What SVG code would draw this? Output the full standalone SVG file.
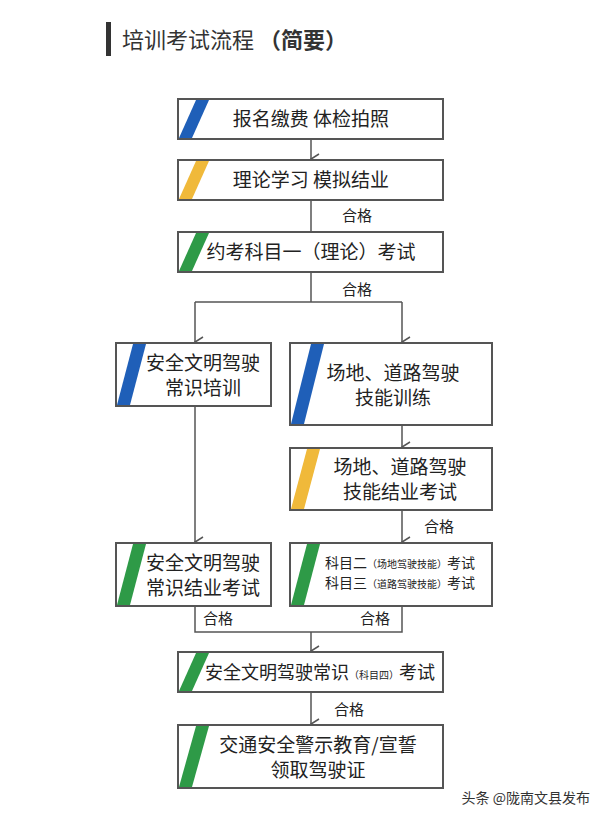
<svg xmlns="http://www.w3.org/2000/svg" width="600" height="820" viewBox="0 0 600 820">
<defs>
<style>
.b{fill:#fff;stroke:#555;stroke-width:2}
.t{font-family:"Noto Sans CJK SC",sans-serif;font-size:19px;fill:#222;text-anchor:middle}
.s{font-size:10px}
.l{font-family:"Noto Sans CJK SC",sans-serif;font-size:15px;fill:#222}
.c{fill:none;stroke:#555;stroke-width:1.5}
.blue{fill:#1f5fb8}.yel{fill:#f0b93a}.grn{fill:#2e9a47}
</style>
<marker id="a" markerWidth="12" markerHeight="10" refX="6" refY="9" orient="auto" markerUnits="userSpaceOnUse" viewBox="0 0 12 10"><path d="M1,1 L6,9 L11,1" fill="none" stroke="#555" stroke-width="1.5"/></marker>
</defs>
<rect width="600" height="820" fill="#fff"/>
<rect x="106" y="22" width="5" height="34" fill="#333"/>
<text x="122" y="48" font-family="Noto Sans CJK SC,sans-serif" font-size="22" fill="#333">培训考试流程 <tspan font-weight="bold">（简要）</tspan></text>
<g id="connectors">
<path class="c" d="M311,139V159" marker-end="url(#a)"/>
<path class="c" d="M311,200V232"/>
<path class="c" d="M311,272V302M195,302H402"/>
<path class="c" d="M195,302V342" marker-end="url(#a)"/>
<path class="c" d="M402,302V342" marker-end="url(#a)"/>
<path class="c" d="M402,425V447" marker-end="url(#a)"/>
<path class="c" d="M402,510V542" marker-end="url(#a)"/>
<path class="c" d="M195,406V542" marker-end="url(#a)"/>
<path class="c" d="M195,606V632H402V606"/>
<path class="c" d="M311,632V651" marker-end="url(#a)"/>
<path class="c" d="M311,692V724" marker-end="url(#a)"/>
<text class="l" x="342" y="221">合格</text>
<text class="l" x="342" y="295">合格</text>
<text class="l" x="424" y="532">合格</text>
<text class="l" x="203" y="624">合格</text>
<text class="l" x="360" y="624">合格</text>
<text class="l" x="334" y="715">合格</text>
</g>
<g id="n1"><rect class="b" x="178" y="99" width="265" height="40"/><polygon class="blue" points="179,138 196,100 209,100 192,138"/><text class="t" x="311" y="126">报名缴费 体检拍照</text></g>
<g id="n2"><rect class="b" x="178" y="160" width="265" height="40"/><polygon class="yel" points="179,199 196,161 209,161 192,199"/><text class="t" x="311" y="187">理论学习 模拟结业</text></g>
<g id="n3"><rect class="b" x="178" y="232" width="265" height="40"/><polygon class="grn" points="179,271 196,233 209,233 192,271"/><text class="t" x="311" y="259">约考科目一（理论）考试</text></g>
<g id="n4"><rect class="b" x="116" y="343" width="155" height="63"/><polygon class="blue" points="117,405 133,344 146,344 130,405"/><text class="t" x="203" y="370">安全文明驾驶</text><text class="t" x="203" y="395">常识培训</text></g>
<g id="n5"><rect class="b" x="290" y="343" width="202" height="82"/><polygon class="blue" points="291,424 311,344 324,344 304,424"/><text class="t" x="393" y="380">场地、道路驾驶</text><text class="t" x="393" y="405">技能训练</text></g>
<g id="n6"><rect class="b" x="290" y="448" width="202" height="62"/><polygon class="yel" points="291,509 307,449 320,449 304,509"/><text class="t" x="400" y="474">场地、道路驾驶</text><text class="t" x="400" y="499">技能结业考试</text></g>
<g id="n7"><rect class="b" x="116" y="543" width="155" height="63"/><polygon class="grn" points="117,605 133,544 146,544 130,605"/><text class="t" x="203" y="570">安全文明驾驶</text><text class="t" x="203" y="595">常识结业考试</text></g>
<g id="n8"><rect class="b" x="290" y="543" width="202" height="63"/><polygon class="grn" points="291,605 307,544 320,544 304,605"/><text class="t" x="400" y="568" style="font-size:14px">科目二<tspan class="s">（场地驾驶技能）</tspan>考试</text><text class="t" x="400" y="588" style="font-size:14px">科目三<tspan class="s">（道路驾驶技能）</tspan>考试</text></g>
<g id="n9"><rect class="b" x="178" y="652" width="265" height="40"/><polygon class="grn" points="179,691 196,653 209,653 192,691"/><text class="t" x="320" y="679" style="font-size:18px">安全文明驾驶常识<tspan class="s">（科目四）</tspan>考试</text></g>
<g id="n10"><rect class="b" x="178" y="725" width="265" height="63"/><polygon class="grn" points="179,787 196,726 209,726 192,787"/><text class="t" x="318" y="752">交通安全警示教育/宣誓</text><text class="t" x="318" y="777">领取驾驶证</text></g>
<text x="590" y="803" font-family="Noto Sans CJK SC,sans-serif" font-size="14" fill="#333" text-anchor="end">头条 @陇南文县发布</text>
</svg>
